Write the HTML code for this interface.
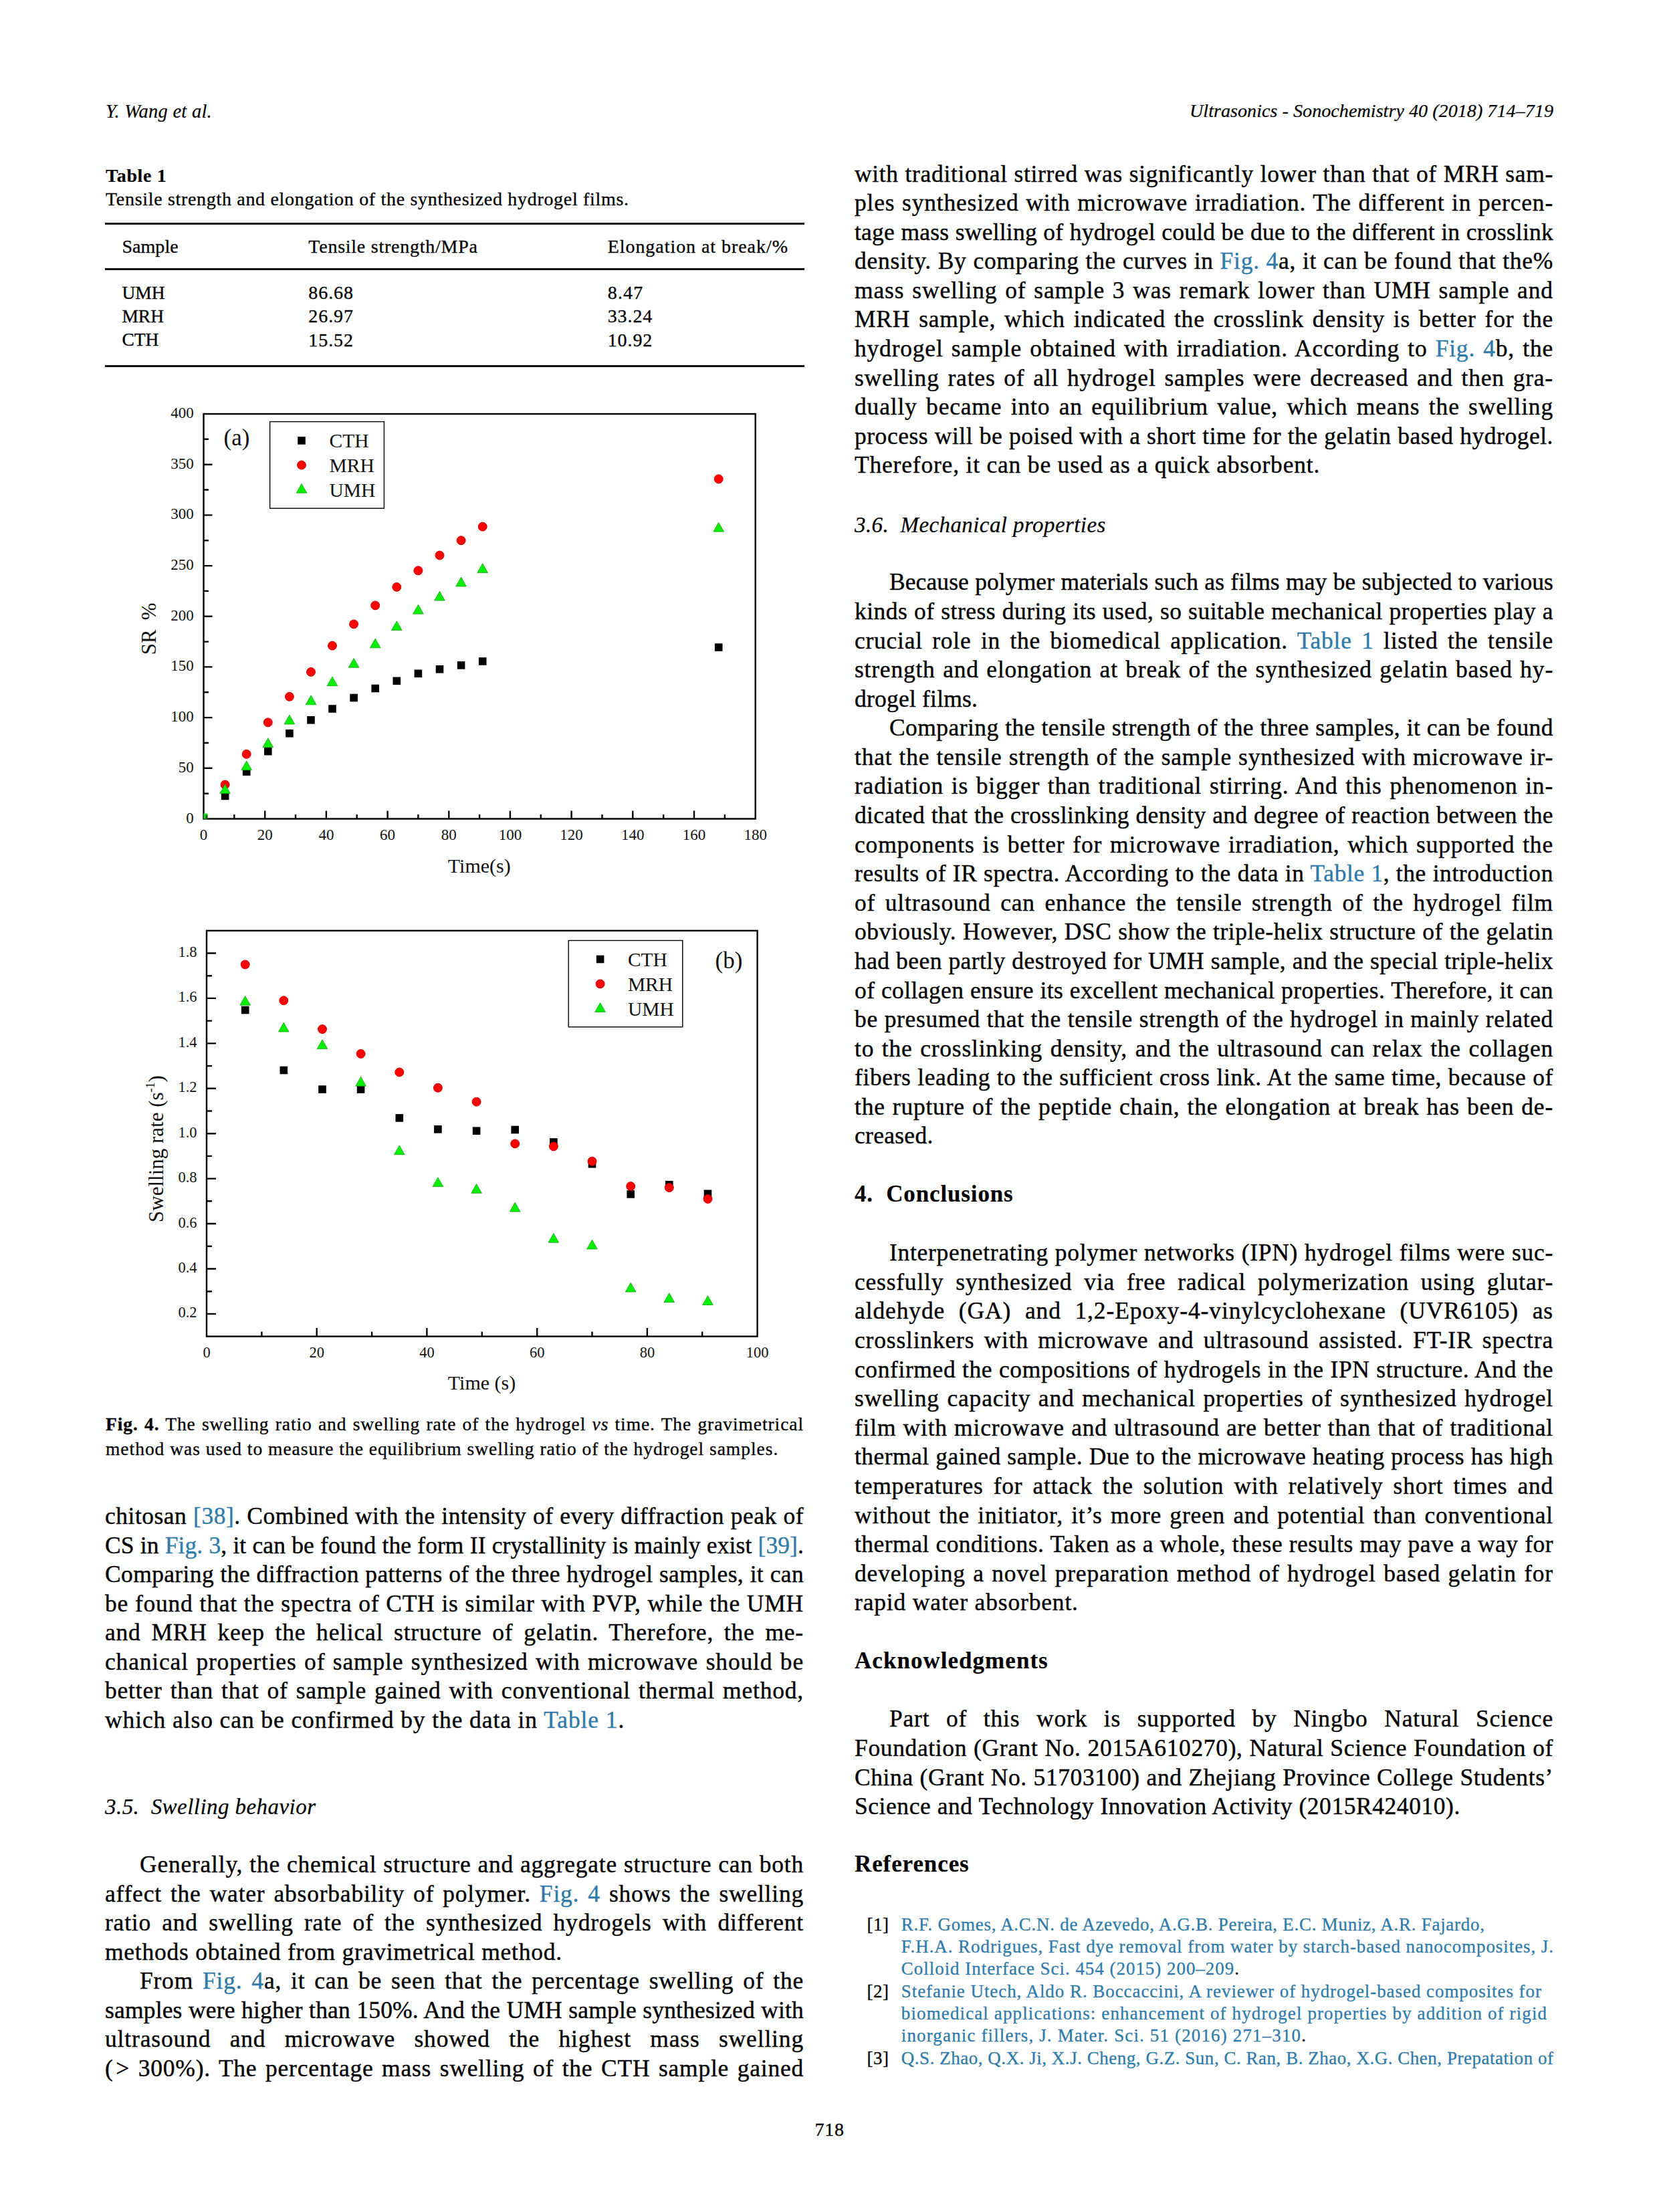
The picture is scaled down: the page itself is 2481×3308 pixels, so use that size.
<!DOCTYPE html>
<html><head><meta charset="utf-8"><title>page</title>
<style>
html,body{margin:0;padding:0;background:#fff;}
body{width:2481px;height:3308px;position:relative;overflow:hidden;font-family:"Liberation Serif",serif;color:#000;}
.l{position:absolute;white-space:nowrap;}
.r{position:absolute;background:#111;}
.a{color:#2f7aa8;}
.c{position:absolute;left:0;top:0;}
</style></head><body>
<svg class="c" width="2481" height="3308" viewBox="0 0 2481 3308" font-family="Liberation Serif" fill="#111"><rect x="304.5" y="619" width="825.2" height="605.5" fill="none" stroke="#000" stroke-width="2.4"/>
<path d="M350.3 1224.5V1218.0M396.2 1224.5V1212.5M442.0 1224.5V1218.0M487.9 1224.5V1212.5M533.7 1224.5V1218.0M579.6 1224.5V1212.5M625.4 1224.5V1218.0M671.3 1224.5V1212.5M717.1 1224.5V1218.0M762.9 1224.5V1212.5M808.8 1224.5V1218.0M854.6 1224.5V1212.5M900.5 1224.5V1218.0M946.3 1224.5V1212.5M992.2 1224.5V1218.0M1038.0 1224.5V1212.5M1083.9 1224.5V1218.0M304.5 1186.7H312.0M304.5 1148.8H317.5M304.5 1111.0H312.0M304.5 1073.1H317.5M304.5 1035.3H312.0M304.5 997.4H317.5M304.5 959.6H312.0M304.5 921.8H317.5M304.5 883.9H312.0M304.5 846.1H317.5M304.5 808.2H312.0M304.5 770.4H317.5M304.5 732.5H312.0M304.5 694.7H317.5M304.5 656.8H312.0" stroke="#000" stroke-width="2.4" fill="none"/>
<text x="304.5" y="1256" font-size="23" text-anchor="middle">0</text>
<text x="396.2" y="1256" font-size="23" text-anchor="middle">20</text>
<text x="487.9" y="1256" font-size="23" text-anchor="middle">40</text>
<text x="579.6" y="1256" font-size="23" text-anchor="middle">60</text>
<text x="671.3" y="1256" font-size="23" text-anchor="middle">80</text>
<text x="762.9" y="1256" font-size="23" text-anchor="middle">100</text>
<text x="854.6" y="1256" font-size="23" text-anchor="middle">120</text>
<text x="946.3" y="1256" font-size="23" text-anchor="middle">140</text>
<text x="1038.0" y="1256" font-size="23" text-anchor="middle">160</text>
<text x="1129.7" y="1256" font-size="23" text-anchor="middle">180</text>
<text x="289.7" y="1230.5" font-size="23" text-anchor="end">0</text>
<text x="289.7" y="1154.8" font-size="23" text-anchor="end">50</text>
<text x="289.7" y="1079.1" font-size="23" text-anchor="end">100</text>
<text x="289.7" y="1003.4" font-size="23" text-anchor="end">150</text>
<text x="289.7" y="927.8" font-size="23" text-anchor="end">200</text>
<text x="289.7" y="852.1" font-size="23" text-anchor="end">250</text>
<text x="289.7" y="776.4" font-size="23" text-anchor="end">300</text>
<text x="289.7" y="700.7" font-size="23" text-anchor="end">350</text>
<text x="289.7" y="625.0" font-size="23" text-anchor="end">400</text>
<text x="334.5" y="666.2" font-size="35">(a)</text>
<rect x="403.6" y="630.6" width="170.8" height="129.6" fill="none" stroke="#000" stroke-width="1.4"/>
<rect x="445.2" y="653.1" width="11.6" height="11.6" fill="#000"/>
<circle cx="451.0" cy="695.5" r="6.5" fill="#ff0000" stroke="#c40000" stroke-width="0.9"/>
<path d="M451.0 723.4L458.8 737.2L443.2 737.2Z" fill="#00f000" stroke="#18a018" stroke-width="0.8" stroke-linejoin="round"/>
<text x="492.5" y="668.8" font-size="29.5">CTH</text>
<text x="492.5" y="705.8" font-size="29.5">MRH</text>
<text x="492.5" y="743" font-size="29.5">UMH</text>
<text transform="translate(233,940.3) rotate(-90)" font-size="31" text-anchor="middle">SR<tspan dx="14">%</tspan></text>
<text x="669.8" y="1305" font-size="30">Time(s)</text>
<rect x="304.5" y="1216.5" width="6" height="8" fill="#1ed81e"/><rect x="307.5" y="1219" width="3" height="5" fill="#0f5a0f"/>
<rect x="330.8" y="1184.6" width="11.6" height="11.6" fill="#000"/>
<rect x="362.9" y="1148.3" width="11.6" height="11.6" fill="#000"/>
<rect x="395.0" y="1117.9" width="11.6" height="11.6" fill="#000"/>
<rect x="427.1" y="1090.9" width="11.6" height="11.6" fill="#000"/>
<rect x="459.2" y="1071.0" width="11.6" height="11.6" fill="#000"/>
<rect x="491.2" y="1054.2" width="11.6" height="11.6" fill="#000"/>
<rect x="523.3" y="1037.7" width="11.6" height="11.6" fill="#000"/>
<rect x="555.4" y="1023.7" width="11.6" height="11.6" fill="#000"/>
<rect x="587.5" y="1012.5" width="11.6" height="11.6" fill="#000"/>
<rect x="619.6" y="1001.5" width="11.6" height="11.6" fill="#000"/>
<rect x="651.7" y="995.0" width="11.6" height="11.6" fill="#000"/>
<rect x="683.8" y="989.1" width="11.6" height="11.6" fill="#000"/>
<rect x="715.9" y="983.2" width="11.6" height="11.6" fill="#000"/>
<rect x="1068.9" y="962.3" width="11.6" height="11.6" fill="#000"/>
<circle cx="336.6" cy="1173.5" r="6.5" fill="#ff0000" stroke="#c40000" stroke-width="0.9"/>
<circle cx="368.7" cy="1127.8" r="6.5" fill="#ff0000" stroke="#c40000" stroke-width="0.9"/>
<circle cx="400.8" cy="1080.4" r="6.5" fill="#ff0000" stroke="#c40000" stroke-width="0.9"/>
<circle cx="432.9" cy="1041.8" r="6.5" fill="#ff0000" stroke="#c40000" stroke-width="0.9"/>
<circle cx="465.0" cy="1004.9" r="6.5" fill="#ff0000" stroke="#c40000" stroke-width="0.9"/>
<circle cx="497.0" cy="965.6" r="6.5" fill="#ff0000" stroke="#c40000" stroke-width="0.9"/>
<circle cx="529.1" cy="933.4" r="6.5" fill="#ff0000" stroke="#c40000" stroke-width="0.9"/>
<circle cx="561.2" cy="905.4" r="6.5" fill="#ff0000" stroke="#c40000" stroke-width="0.9"/>
<circle cx="593.3" cy="877.9" r="6.5" fill="#ff0000" stroke="#c40000" stroke-width="0.9"/>
<circle cx="625.4" cy="853.3" r="6.5" fill="#ff0000" stroke="#c40000" stroke-width="0.9"/>
<circle cx="657.5" cy="830.5" r="6.5" fill="#ff0000" stroke="#c40000" stroke-width="0.9"/>
<circle cx="689.6" cy="808.2" r="6.5" fill="#ff0000" stroke="#c40000" stroke-width="0.9"/>
<circle cx="721.7" cy="787.6" r="6.5" fill="#ff0000" stroke="#c40000" stroke-width="0.9"/>
<circle cx="1074.7" cy="716.3" r="6.5" fill="#ff0000" stroke="#c40000" stroke-width="0.9"/>
<path d="M336.6 1172.9L344.4 1186.7L328.8 1186.7Z" fill="#00f000" stroke="#18a018" stroke-width="0.8" stroke-linejoin="round"/>
<path d="M368.7 1137.9L376.5 1151.7L360.9 1151.7Z" fill="#00f000" stroke="#18a018" stroke-width="0.8" stroke-linejoin="round"/>
<path d="M400.8 1103.8L408.6 1117.6L393.0 1117.6Z" fill="#00f000" stroke="#18a018" stroke-width="0.8" stroke-linejoin="round"/>
<path d="M432.9 1069.2L440.7 1083.0L425.1 1083.0Z" fill="#00f000" stroke="#18a018" stroke-width="0.8" stroke-linejoin="round"/>
<path d="M465.0 1040.0L472.8 1053.8L457.2 1053.8Z" fill="#00f000" stroke="#18a018" stroke-width="0.8" stroke-linejoin="round"/>
<path d="M497.0 1011.9L504.8 1025.7L489.2 1025.7Z" fill="#00f000" stroke="#18a018" stroke-width="0.8" stroke-linejoin="round"/>
<path d="M529.1 984.4L536.9 998.2L521.3 998.2Z" fill="#00f000" stroke="#18a018" stroke-width="0.8" stroke-linejoin="round"/>
<path d="M561.2 955.0L569.0 968.8L553.4 968.8Z" fill="#00f000" stroke="#18a018" stroke-width="0.8" stroke-linejoin="round"/>
<path d="M593.3 928.8L601.1 942.6L585.5 942.6Z" fill="#00f000" stroke="#18a018" stroke-width="0.8" stroke-linejoin="round"/>
<path d="M625.4 904.3L633.2 918.1L617.6 918.1Z" fill="#00f000" stroke="#18a018" stroke-width="0.8" stroke-linejoin="round"/>
<path d="M657.5 884.3L665.3 898.1L649.7 898.1Z" fill="#00f000" stroke="#18a018" stroke-width="0.8" stroke-linejoin="round"/>
<path d="M689.6 863.1L697.4 876.9L681.8 876.9Z" fill="#00f000" stroke="#18a018" stroke-width="0.8" stroke-linejoin="round"/>
<path d="M721.7 842.7L729.5 856.5L713.9 856.5Z" fill="#00f000" stroke="#18a018" stroke-width="0.8" stroke-linejoin="round"/>
<path d="M1074.7 781.3L1082.5 795.1L1066.9 795.1Z" fill="#00f000" stroke="#18a018" stroke-width="0.8" stroke-linejoin="round"/>
<rect x="309" y="1391.8" width="823.6" height="606.8" fill="none" stroke="#000" stroke-width="2.4"/>
<path d="M391.4 1998.6V1991.6M473.7 1998.6V1986.1M556.1 1998.6V1991.6M638.4 1998.6V1986.1M720.8 1998.6V1991.6M803.2 1998.6V1986.1M885.5 1998.6V1991.6M967.9 1998.6V1986.1M1050.2 1998.6V1991.6M309 1964.9H323M309 1931.2H317M309 1897.5H323M309 1863.8H317M309 1830.0H323M309 1796.3H317M309 1762.6H323M309 1728.9H317M309 1695.2H323M309 1661.5H317M309 1627.8H323M309 1594.1H317M309 1560.4H323M309 1526.6H317M309 1492.9H323M309 1459.2H317M309 1425.5H323" stroke="#000" stroke-width="2.4" fill="none"/>
<text x="309.0" y="2030" font-size="22.5" text-anchor="middle">0</text>
<text x="473.7" y="2030" font-size="22.5" text-anchor="middle">20</text>
<text x="638.4" y="2030" font-size="22.5" text-anchor="middle">40</text>
<text x="803.2" y="2030" font-size="22.5" text-anchor="middle">60</text>
<text x="967.9" y="2030" font-size="22.5" text-anchor="middle">80</text>
<text x="1132.6" y="2030" font-size="22.5" text-anchor="middle">100</text>
<text x="294.6" y="1970.4" font-size="22.5" text-anchor="end">0.2</text>
<text x="294.6" y="1903.0" font-size="22.5" text-anchor="end">0.4</text>
<text x="294.6" y="1835.5" font-size="22.5" text-anchor="end">0.6</text>
<text x="294.6" y="1768.1" font-size="22.5" text-anchor="end">0.8</text>
<text x="294.6" y="1700.7" font-size="22.5" text-anchor="end">1.0</text>
<text x="294.6" y="1633.3" font-size="22.5" text-anchor="end">1.2</text>
<text x="294.6" y="1565.9" font-size="22.5" text-anchor="end">1.4</text>
<text x="294.6" y="1498.4" font-size="22.5" text-anchor="end">1.6</text>
<text x="294.6" y="1431.0" font-size="22.5" text-anchor="end">1.8</text>
<text x="1069.6" y="1447.6" font-size="35">(b)</text>
<rect x="850.2" y="1406.5" width="170.6" height="129.3" fill="none" stroke="#000" stroke-width="1.4"/>
<rect x="891.8" y="1428.7" width="11.6" height="11.6" fill="#000"/>
<circle cx="897.6" cy="1471.4" r="6.5" fill="#ff0000" stroke="#c40000" stroke-width="0.9"/>
<path d="M897.6 1499.6L905.4 1513.4L889.8 1513.4Z" fill="#00f000" stroke="#18a018" stroke-width="0.8" stroke-linejoin="round"/>
<text x="938.9" y="1444.7" font-size="29.5">CTH</text>
<text x="938.9" y="1481.6" font-size="29.5">MRH</text>
<text x="938.9" y="1518.6" font-size="29.5">UMH</text>
<text transform="translate(244,1718) rotate(-90)" font-size="31" text-anchor="middle">Swelling rate (s<tspan font-size="18" dy="-13">-1</tspan><tspan dy="13">)</tspan></text>
<text x="669.8" y="2077.7" font-size="30">Time (s)</text>
<rect x="360.9" y="1504.7" width="11.6" height="11.6" fill="#000"/>
<rect x="418.5" y="1594.7" width="11.6" height="11.6" fill="#000"/>
<rect x="476.2" y="1623.3" width="11.6" height="11.6" fill="#000"/>
<rect x="533.8" y="1623.3" width="11.6" height="11.6" fill="#000"/>
<rect x="591.5" y="1666.1" width="11.6" height="11.6" fill="#000"/>
<rect x="649.1" y="1683.0" width="11.6" height="11.6" fill="#000"/>
<rect x="706.8" y="1685.4" width="11.6" height="11.6" fill="#000"/>
<rect x="764.4" y="1683.7" width="11.6" height="11.6" fill="#000"/>
<rect x="822.1" y="1702.2" width="11.6" height="11.6" fill="#000"/>
<rect x="879.7" y="1734.9" width="11.6" height="11.6" fill="#000"/>
<rect x="937.4" y="1780.1" width="11.6" height="11.6" fill="#000"/>
<rect x="995.0" y="1765.9" width="11.6" height="11.6" fill="#000"/>
<rect x="1052.7" y="1779.4" width="11.6" height="11.6" fill="#000"/>
<circle cx="366.7" cy="1442.4" r="6.5" fill="#ff0000" stroke="#c40000" stroke-width="0.9"/>
<circle cx="424.3" cy="1496.3" r="6.5" fill="#ff0000" stroke="#c40000" stroke-width="0.9"/>
<circle cx="482.0" cy="1539.1" r="6.5" fill="#ff0000" stroke="#c40000" stroke-width="0.9"/>
<circle cx="539.6" cy="1575.9" r="6.5" fill="#ff0000" stroke="#c40000" stroke-width="0.9"/>
<circle cx="597.3" cy="1603.5" r="6.5" fill="#ff0000" stroke="#c40000" stroke-width="0.9"/>
<circle cx="654.9" cy="1626.8" r="6.5" fill="#ff0000" stroke="#c40000" stroke-width="0.9"/>
<circle cx="712.6" cy="1647.7" r="6.5" fill="#ff0000" stroke="#c40000" stroke-width="0.9"/>
<circle cx="770.2" cy="1710.4" r="6.5" fill="#ff0000" stroke="#c40000" stroke-width="0.9"/>
<circle cx="827.9" cy="1714.4" r="6.5" fill="#ff0000" stroke="#c40000" stroke-width="0.9"/>
<circle cx="885.5" cy="1736.7" r="6.5" fill="#ff0000" stroke="#c40000" stroke-width="0.9"/>
<circle cx="943.2" cy="1774.1" r="6.5" fill="#ff0000" stroke="#c40000" stroke-width="0.9"/>
<circle cx="1000.8" cy="1776.1" r="6.5" fill="#ff0000" stroke="#c40000" stroke-width="0.9"/>
<circle cx="1058.5" cy="1793.0" r="6.5" fill="#ff0000" stroke="#c40000" stroke-width="0.9"/>
<path d="M366.7 1489.4L374.5 1503.2L358.9 1503.2Z" fill="#00f000" stroke="#18a018" stroke-width="0.8" stroke-linejoin="round"/>
<path d="M424.3 1529.2L432.1 1543.0L416.5 1543.0Z" fill="#00f000" stroke="#18a018" stroke-width="0.8" stroke-linejoin="round"/>
<path d="M482.0 1554.8L489.8 1568.6L474.2 1568.6Z" fill="#00f000" stroke="#18a018" stroke-width="0.8" stroke-linejoin="round"/>
<path d="M539.6 1610.4L547.4 1624.2L531.8 1624.2Z" fill="#00f000" stroke="#18a018" stroke-width="0.8" stroke-linejoin="round"/>
<path d="M597.3 1712.9L605.1 1726.7L589.5 1726.7Z" fill="#00f000" stroke="#18a018" stroke-width="0.8" stroke-linejoin="round"/>
<path d="M654.9 1760.8L662.7 1774.6L647.1 1774.6Z" fill="#00f000" stroke="#18a018" stroke-width="0.8" stroke-linejoin="round"/>
<path d="M712.6 1770.5L720.4 1784.3L704.8 1784.3Z" fill="#00f000" stroke="#18a018" stroke-width="0.8" stroke-linejoin="round"/>
<path d="M770.2 1798.2L778.0 1812.0L762.4 1812.0Z" fill="#00f000" stroke="#18a018" stroke-width="0.8" stroke-linejoin="round"/>
<path d="M827.9 1844.4L835.7 1858.2L820.1 1858.2Z" fill="#00f000" stroke="#18a018" stroke-width="0.8" stroke-linejoin="round"/>
<path d="M885.5 1854.1L893.3 1867.9L877.7 1867.9Z" fill="#00f000" stroke="#18a018" stroke-width="0.8" stroke-linejoin="round"/>
<path d="M943.2 1918.2L951.0 1932.0L935.4 1932.0Z" fill="#00f000" stroke="#18a018" stroke-width="0.8" stroke-linejoin="round"/>
<path d="M1000.8 1933.7L1008.6 1947.5L993.0 1947.5Z" fill="#00f000" stroke="#18a018" stroke-width="0.8" stroke-linejoin="round"/>
<path d="M1058.5 1937.7L1066.3 1951.5L1050.7 1951.5Z" fill="#00f000" stroke="#18a018" stroke-width="0.8" stroke-linejoin="round"/></svg>
<div class="r" style="left:157px;top:333px;width:1046px;height:3px"></div><div class="r" style="left:157px;top:401px;width:1046px;height:3px"></div><div class="r" style="left:157px;top:546px;width:1046px;height:3px"></div>
<div class="l" style="left:158.0px;top:150.6px;font-size:28.5px;line-height:31.55px;letter-spacing:0.247px;-webkit-text-stroke:0.18px currentColor;font-style:italic;">Y. Wang et al.</div>
<div class="l" style="left:1779.0px;top:150.4px;font-size:28.2px;line-height:31.22px;letter-spacing:-0.003px;-webkit-text-stroke:0.18px currentColor;font-style:italic;">Ultrasonics - Sonochemistry 40 (2018) 714–719</div>
<div class="l" style="left:158.0px;top:247.4px;font-size:28px;line-height:31.00px;letter-spacing:0.635px;-webkit-text-stroke:0.12px currentColor;font-weight:bold;">Table 1</div>
<div class="l" style="left:158.0px;top:281.8px;font-size:28px;line-height:31.00px;letter-spacing:0.684px;-webkit-text-stroke:0.30px currentColor;">Tensile strength and elongation of the synthesized hydrogel films.</div>
<div class="l" style="left:182.4px;top:353.1px;font-size:28px;line-height:31.00px;letter-spacing:0.060px;-webkit-text-stroke:0.30px currentColor;">Sample</div>
<div class="l" style="left:461.3px;top:353.1px;font-size:28px;line-height:31.00px;letter-spacing:0.756px;-webkit-text-stroke:0.30px currentColor;">Tensile strength/MPa</div>
<div class="l" style="left:908.7px;top:353.1px;font-size:28px;line-height:31.00px;letter-spacing:0.947px;-webkit-text-stroke:0.30px currentColor;">Elongation at break/%</div>
<div class="l" style="left:182.4px;top:422.5px;font-size:27.5px;line-height:30.44px;-webkit-text-stroke:0.30px currentColor;">UMH</div>
<div class="l" style="left:461.3px;top:422.1px;font-size:28px;line-height:31.00px;letter-spacing:0.925px;-webkit-text-stroke:0.30px currentColor;">86.68</div>
<div class="l" style="left:908.7px;top:422.1px;font-size:28px;line-height:31.00px;letter-spacing:1.200px;-webkit-text-stroke:0.30px currentColor;">8.47</div>
<div class="l" style="left:182.4px;top:457.8px;font-size:27.5px;line-height:30.44px;-webkit-text-stroke:0.30px currentColor;">MRH</div>
<div class="l" style="left:461.3px;top:457.4px;font-size:28px;line-height:31.00px;letter-spacing:0.925px;-webkit-text-stroke:0.30px currentColor;">26.97</div>
<div class="l" style="left:908.7px;top:457.4px;font-size:28px;line-height:31.00px;letter-spacing:0.900px;-webkit-text-stroke:0.30px currentColor;">33.24</div>
<div class="l" style="left:182.4px;top:493.1px;font-size:27.5px;line-height:30.44px;-webkit-text-stroke:0.30px currentColor;">CTH</div>
<div class="l" style="left:461.3px;top:492.7px;font-size:28px;line-height:31.00px;letter-spacing:0.925px;-webkit-text-stroke:0.30px currentColor;">15.52</div>
<div class="l" style="left:908.7px;top:492.7px;font-size:28px;line-height:31.00px;letter-spacing:0.900px;-webkit-text-stroke:0.30px currentColor;">10.92</div>
<div class="l" style="left:158.0px;top:2114.5px;font-size:27.5px;line-height:30.44px;width:1044.0px;text-align:justify;text-align-last:justify;letter-spacing:0.922px;-webkit-text-stroke:0.30px currentColor;"><b>Fig. 4.</b> The swelling ratio and swelling rate of the hydrogel <i>vs</i> time. The gravimetrical</div>
<div class="l" style="left:158.0px;top:2152.3px;font-size:27.5px;line-height:30.44px;letter-spacing:0.974px;-webkit-text-stroke:0.30px currentColor;">method was used to measure the equilibrium swelling ratio of the hydrogel samples.</div>
<div class="l" style="left:157.0px;top:2248.1px;font-size:35.5px;line-height:39.30px;width:1045.0px;text-align:justify;text-align-last:justify;letter-spacing:0.508px;-webkit-text-stroke:0.38px currentColor;">chitosan <span class="a">[38]</span>. Combined with the intensity of every diffraction peak of</div>
<div class="l" style="left:157.0px;top:2291.6px;font-size:35.5px;line-height:39.30px;width:1045.0px;text-align:justify;text-align-last:justify;letter-spacing:0.087px;-webkit-text-stroke:0.38px currentColor;">CS in <span class="a">Fig. 3</span>, it can be found the form II crystallinity is mainly exist <span class="a">[39]</span>.</div>
<div class="l" style="left:157.0px;top:2335.1px;font-size:35.5px;line-height:39.30px;width:1045.0px;text-align:justify;text-align-last:justify;letter-spacing:0.365px;-webkit-text-stroke:0.38px currentColor;">Comparing the diffraction patterns of the three hydrogel samples, it can</div>
<div class="l" style="left:157.0px;top:2378.6px;font-size:35.5px;line-height:39.30px;width:1045.0px;text-align:justify;text-align-last:justify;letter-spacing:0.777px;-webkit-text-stroke:0.38px currentColor;">be found that the spectra of CTH is similar with PVP, while the UMH</div>
<div class="l" style="left:157.0px;top:2422.1px;font-size:35.5px;line-height:39.30px;width:1045.0px;text-align:justify;text-align-last:justify;letter-spacing:0.800px;-webkit-text-stroke:0.38px currentColor;">and MRH keep the helical structure of gelatin. Therefore, the me-</div>
<div class="l" style="left:157.0px;top:2465.6px;font-size:35.5px;line-height:39.30px;width:1045.0px;text-align:justify;text-align-last:justify;letter-spacing:0.825px;-webkit-text-stroke:0.38px currentColor;">chanical properties of sample synthesized with microwave should be</div>
<div class="l" style="left:157.0px;top:2509.1px;font-size:35.5px;line-height:39.30px;width:1045.0px;text-align:justify;text-align-last:justify;letter-spacing:0.808px;-webkit-text-stroke:0.38px currentColor;">better than that of sample gained with conventional thermal method,</div>
<div class="l" style="left:157.0px;top:2552.6px;font-size:35.5px;line-height:39.30px;letter-spacing:0.900px;-webkit-text-stroke:0.38px currentColor;">which also can be confirmed by the data in <span class="a">Table 1</span>.</div>
<div class="l" style="left:157.0px;top:2683.6px;font-size:33px;line-height:36.53px;letter-spacing:0.445px;-webkit-text-stroke:0.21px currentColor;font-style:italic;">3.5.&nbsp; Swelling behavior</div>
<div class="l" style="left:209.0px;top:2769.4px;font-size:35.5px;line-height:39.30px;width:993.0px;text-align:justify;text-align-last:justify;letter-spacing:0.773px;-webkit-text-stroke:0.38px currentColor;">Generally, the chemical structure and aggregate structure can both</div>
<div class="l" style="left:157.0px;top:2812.9px;font-size:35.5px;line-height:39.30px;width:1045.0px;text-align:justify;text-align-last:justify;letter-spacing:0.786px;-webkit-text-stroke:0.38px currentColor;">affect the water absorbability of polymer. <span class="a">Fig. 4</span> shows the swelling</div>
<div class="l" style="left:157.0px;top:2856.4px;font-size:35.5px;line-height:39.30px;width:1045.0px;text-align:justify;text-align-last:justify;letter-spacing:0.777px;-webkit-text-stroke:0.38px currentColor;">ratio and swelling rate of the synthesized hydrogels with different</div>
<div class="l" style="left:157.0px;top:2899.9px;font-size:35.5px;line-height:39.30px;letter-spacing:0.747px;-webkit-text-stroke:0.38px currentColor;">methods obtained from gravimetrical method.</div>
<div class="l" style="left:209.0px;top:2943.4px;font-size:35.5px;line-height:39.30px;width:993.0px;text-align:justify;text-align-last:justify;letter-spacing:0.777px;-webkit-text-stroke:0.38px currentColor;">From <span class="a">Fig. 4</span>a, it can be seen that the percentage swelling of the</div>
<div class="l" style="left:157.0px;top:2986.9px;font-size:35.5px;line-height:39.30px;width:1045.0px;text-align:justify;text-align-last:justify;letter-spacing:0.178px;-webkit-text-stroke:0.38px currentColor;">samples were higher than 150%. And the UMH sample synthesized with</div>
<div class="l" style="left:157.0px;top:3030.4px;font-size:35.5px;line-height:39.30px;width:1045.0px;text-align:justify;text-align-last:justify;letter-spacing:0.848px;-webkit-text-stroke:0.38px currentColor;">ultrasound and microwave showed the highest mass swelling</div>
<div class="l" style="left:157.0px;top:3073.9px;font-size:35.5px;line-height:39.30px;width:1045.0px;text-align:justify;text-align-last:justify;letter-spacing:0.770px;-webkit-text-stroke:0.38px currentColor;">(&#8202;&gt; 300%). The percentage mass swelling of the CTH sample gained</div>
<div class="l" style="left:1278.0px;top:240.7px;font-size:35.5px;line-height:39.30px;width:1045.0px;text-align:justify;text-align-last:justify;letter-spacing:0.660px;-webkit-text-stroke:0.38px currentColor;">with traditional stirred was significantly lower than that of MRH sam-</div>
<div class="l" style="left:1278.0px;top:284.2px;font-size:35.5px;line-height:39.30px;width:1045.0px;text-align:justify;text-align-last:justify;letter-spacing:0.794px;-webkit-text-stroke:0.38px currentColor;">ples synthesized with microwave irradiation. The different in percen-</div>
<div class="l" style="left:1278.0px;top:327.8px;font-size:35.5px;line-height:39.30px;width:1045.0px;text-align:justify;text-align-last:justify;letter-spacing:0.237px;-webkit-text-stroke:0.38px currentColor;">tage mass swelling of hydrogel could be due to the different in crosslink</div>
<div class="l" style="left:1278.0px;top:371.3px;font-size:35.5px;line-height:39.30px;width:1045.0px;text-align:justify;text-align-last:justify;letter-spacing:0.722px;-webkit-text-stroke:0.38px currentColor;">density. By comparing the curves in <span class="a">Fig. 4</span>a, it can be found that the%</div>
<div class="l" style="left:1278.0px;top:414.9px;font-size:35.5px;line-height:39.30px;width:1045.0px;text-align:justify;text-align-last:justify;letter-spacing:0.872px;-webkit-text-stroke:0.38px currentColor;">mass swelling of sample 3 was remark lower than UMH sample and</div>
<div class="l" style="left:1278.0px;top:458.4px;font-size:35.5px;line-height:39.30px;width:1045.0px;text-align:justify;text-align-last:justify;letter-spacing:0.799px;-webkit-text-stroke:0.38px currentColor;">MRH sample, which indicated the crosslink density is better for the</div>
<div class="l" style="left:1278.0px;top:502.0px;font-size:35.5px;line-height:39.30px;width:1045.0px;text-align:justify;text-align-last:justify;letter-spacing:0.795px;-webkit-text-stroke:0.38px currentColor;">hydrogel sample obtained with irradiation. According to <span class="a">Fig. 4</span>b, the</div>
<div class="l" style="left:1278.0px;top:545.5px;font-size:35.5px;line-height:39.30px;width:1045.0px;text-align:justify;text-align-last:justify;letter-spacing:0.800px;-webkit-text-stroke:0.38px currentColor;">swelling rates of all hydrogel samples were decreased and then gra-</div>
<div class="l" style="left:1278.0px;top:589.1px;font-size:35.5px;line-height:39.30px;width:1045.0px;text-align:justify;text-align-last:justify;letter-spacing:0.823px;-webkit-text-stroke:0.38px currentColor;">dually became into an equilibrium value, which means the swelling</div>
<div class="l" style="left:1278.0px;top:632.6px;font-size:35.5px;line-height:39.30px;width:1045.0px;text-align:justify;text-align-last:justify;letter-spacing:0.519px;-webkit-text-stroke:0.38px currentColor;">process will be poised with a short time for the gelatin based hydrogel.</div>
<div class="l" style="left:1278.0px;top:676.2px;font-size:35.5px;line-height:39.30px;letter-spacing:0.801px;-webkit-text-stroke:0.38px currentColor;">Therefore, it can be used as a quick absorbent.</div>
<div class="l" style="left:1278.0px;top:766.9px;font-size:33px;line-height:36.53px;letter-spacing:0.417px;-webkit-text-stroke:0.21px currentColor;font-style:italic;">3.6.&nbsp; Mechanical properties</div>
<div class="l" style="left:1330.0px;top:851.4px;font-size:35.5px;line-height:39.30px;width:993.0px;text-align:justify;text-align-last:justify;letter-spacing:0.091px;-webkit-text-stroke:0.38px currentColor;">Because polymer materials such as films may be subjected to various</div>
<div class="l" style="left:1278.0px;top:894.9px;font-size:35.5px;line-height:39.30px;width:1045.0px;text-align:justify;text-align-last:justify;letter-spacing:0.498px;-webkit-text-stroke:0.38px currentColor;">kinds of stress during its used, so suitable mechanical properties play a</div>
<div class="l" style="left:1278.0px;top:938.5px;font-size:35.5px;line-height:39.30px;width:1045.0px;text-align:justify;text-align-last:justify;letter-spacing:0.753px;-webkit-text-stroke:0.38px currentColor;">crucial role in the biomedical application. <span class="a">Table 1</span> listed the tensile</div>
<div class="l" style="left:1278.0px;top:982.1px;font-size:35.5px;line-height:39.30px;width:1045.0px;text-align:justify;text-align-last:justify;letter-spacing:0.786px;-webkit-text-stroke:0.38px currentColor;">strength and elongation at break of the synthesized gelatin based hy-</div>
<div class="l" style="left:1278.0px;top:1025.7px;font-size:35.5px;line-height:39.30px;letter-spacing:0.215px;-webkit-text-stroke:0.38px currentColor;">drogel films.</div>
<div class="l" style="left:1330.0px;top:1069.3px;font-size:35.5px;line-height:39.30px;width:993.0px;text-align:justify;text-align-last:justify;letter-spacing:0.438px;-webkit-text-stroke:0.38px currentColor;">Comparing the tensile strength of the three samples, it can be found</div>
<div class="l" style="left:1278.0px;top:1112.8px;font-size:35.5px;line-height:39.30px;width:1045.0px;text-align:justify;text-align-last:justify;letter-spacing:0.785px;-webkit-text-stroke:0.38px currentColor;">that the tensile strength of the sample synthesized with microwave ir-</div>
<div class="l" style="left:1278.0px;top:1156.4px;font-size:35.5px;line-height:39.30px;width:1045.0px;text-align:justify;text-align-last:justify;letter-spacing:0.775px;-webkit-text-stroke:0.38px currentColor;">radiation is bigger than traditional stirring. And this phenomenon in-</div>
<div class="l" style="left:1278.0px;top:1200.0px;font-size:35.5px;line-height:39.30px;width:1045.0px;text-align:justify;text-align-last:justify;letter-spacing:0.370px;-webkit-text-stroke:0.38px currentColor;">dicated that the crosslinking density and degree of reaction between the</div>
<div class="l" style="left:1278.0px;top:1243.6px;font-size:35.5px;line-height:39.30px;width:1045.0px;text-align:justify;text-align-last:justify;letter-spacing:0.810px;-webkit-text-stroke:0.38px currentColor;">components is better for microwave irradiation, which supported the</div>
<div class="l" style="left:1278.0px;top:1287.2px;font-size:35.5px;line-height:39.30px;width:1045.0px;text-align:justify;text-align-last:justify;letter-spacing:0.569px;-webkit-text-stroke:0.38px currentColor;">results of IR spectra. According to the data in <span class="a">Table 1</span>, the introduction</div>
<div class="l" style="left:1278.0px;top:1330.7px;font-size:35.5px;line-height:39.30px;width:1045.0px;text-align:justify;text-align-last:justify;letter-spacing:0.785px;-webkit-text-stroke:0.38px currentColor;">of ultrasound can enhance the tensile strength of the hydrogel film</div>
<div class="l" style="left:1278.0px;top:1374.3px;font-size:35.5px;line-height:39.30px;width:1045.0px;text-align:justify;text-align-last:justify;letter-spacing:0.558px;-webkit-text-stroke:0.38px currentColor;">obviously. However, DSC show the triple-helix structure of the gelatin</div>
<div class="l" style="left:1278.0px;top:1417.9px;font-size:35.5px;line-height:39.30px;width:1045.0px;text-align:justify;text-align-last:justify;letter-spacing:0.423px;-webkit-text-stroke:0.38px currentColor;">had been partly destroyed for UMH sample, and the special triple-helix</div>
<div class="l" style="left:1278.0px;top:1461.5px;font-size:35.5px;line-height:39.30px;width:1045.0px;text-align:justify;text-align-last:justify;letter-spacing:0.389px;-webkit-text-stroke:0.38px currentColor;">of collagen ensure its excellent mechanical properties. Therefore, it can</div>
<div class="l" style="left:1278.0px;top:1505.1px;font-size:35.5px;line-height:39.30px;width:1045.0px;text-align:justify;text-align-last:justify;letter-spacing:0.666px;-webkit-text-stroke:0.38px currentColor;">be presumed that the tensile strength of the hydrogel in mainly related</div>
<div class="l" style="left:1278.0px;top:1548.6px;font-size:35.5px;line-height:39.30px;width:1045.0px;text-align:justify;text-align-last:justify;letter-spacing:0.774px;-webkit-text-stroke:0.38px currentColor;">to the crosslinking density, and the ultrasound can relax the collagen</div>
<div class="l" style="left:1278.0px;top:1592.2px;font-size:35.5px;line-height:39.30px;width:1045.0px;text-align:justify;text-align-last:justify;letter-spacing:0.616px;-webkit-text-stroke:0.38px currentColor;">fibers leading to the sufficient cross link. At the same time, because of</div>
<div class="l" style="left:1278.0px;top:1635.8px;font-size:35.5px;line-height:39.30px;width:1045.0px;text-align:justify;text-align-last:justify;letter-spacing:0.776px;-webkit-text-stroke:0.38px currentColor;">the rupture of the peptide chain, the elongation at break has been de-</div>
<div class="l" style="left:1278.0px;top:1679.4px;font-size:35.5px;line-height:39.30px;letter-spacing:0.286px;-webkit-text-stroke:0.38px currentColor;">creased.</div>
<div class="l" style="left:1278.0px;top:1766.5px;font-size:35px;line-height:38.74px;letter-spacing:0.860px;-webkit-text-stroke:0.15px currentColor;font-weight:bold;">4.&nbsp; Conclusions</div>
<div class="l" style="left:1330.0px;top:1854.1px;font-size:35.5px;line-height:39.30px;width:993.0px;text-align:justify;text-align-last:justify;letter-spacing:0.697px;-webkit-text-stroke:0.38px currentColor;">Interpenetrating polymer networks (IPN) hydrogel films were suc-</div>
<div class="l" style="left:1278.0px;top:1897.7px;font-size:35.5px;line-height:39.30px;width:1045.0px;text-align:justify;text-align-last:justify;letter-spacing:0.779px;-webkit-text-stroke:0.38px currentColor;">cessfully synthesized via free radical polymerization using glutar-</div>
<div class="l" style="left:1278.0px;top:1941.3px;font-size:35.5px;line-height:39.30px;width:1045.0px;text-align:justify;text-align-last:justify;letter-spacing:0.888px;-webkit-text-stroke:0.38px currentColor;">aldehyde (GA) and 1,2-Epoxy-4-vinylcyclohexane (UVR6105) as</div>
<div class="l" style="left:1278.0px;top:1984.9px;font-size:35.5px;line-height:39.30px;width:1045.0px;text-align:justify;text-align-last:justify;letter-spacing:0.811px;-webkit-text-stroke:0.38px currentColor;">crosslinkers with microwave and ultrasound assisted. FT-IR spectra</div>
<div class="l" style="left:1278.0px;top:2028.5px;font-size:35.5px;line-height:39.30px;width:1045.0px;text-align:justify;text-align-last:justify;letter-spacing:0.598px;-webkit-text-stroke:0.38px currentColor;">confirmed the compositions of hydrogels in the IPN structure. And the</div>
<div class="l" style="left:1278.0px;top:2072.1px;font-size:35.5px;line-height:39.30px;width:1045.0px;text-align:justify;text-align-last:justify;letter-spacing:0.814px;-webkit-text-stroke:0.38px currentColor;">swelling capacity and mechanical properties of synthesized hydrogel</div>
<div class="l" style="left:1278.0px;top:2115.7px;font-size:35.5px;line-height:39.30px;width:1045.0px;text-align:justify;text-align-last:justify;letter-spacing:0.784px;-webkit-text-stroke:0.38px currentColor;">film with microwave and ultrasound are better than that of traditional</div>
<div class="l" style="left:1278.0px;top:2159.3px;font-size:35.5px;line-height:39.30px;width:1045.0px;text-align:justify;text-align-last:justify;letter-spacing:0.464px;-webkit-text-stroke:0.38px currentColor;">thermal gained sample. Due to the microwave heating process has high</div>
<div class="l" style="left:1278.0px;top:2202.9px;font-size:35.5px;line-height:39.30px;width:1045.0px;text-align:justify;text-align-last:justify;letter-spacing:0.774px;-webkit-text-stroke:0.38px currentColor;">temperatures for attack the solution with relatively short times and</div>
<div class="l" style="left:1278.0px;top:2246.5px;font-size:35.5px;line-height:39.30px;width:1045.0px;text-align:justify;text-align-last:justify;letter-spacing:0.771px;-webkit-text-stroke:0.38px currentColor;">without the initiator, it’s more green and potential than conventional</div>
<div class="l" style="left:1278.0px;top:2290.1px;font-size:35.5px;line-height:39.30px;width:1045.0px;text-align:justify;text-align-last:justify;letter-spacing:0.481px;-webkit-text-stroke:0.38px currentColor;">thermal conditions. Taken as a whole, these results may pave a way for</div>
<div class="l" style="left:1278.0px;top:2333.7px;font-size:35.5px;line-height:39.30px;width:1045.0px;text-align:justify;text-align-last:justify;letter-spacing:0.812px;-webkit-text-stroke:0.38px currentColor;">developing a novel preparation method of hydrogel based gelatin for</div>
<div class="l" style="left:1278.0px;top:2377.3px;font-size:35.5px;line-height:39.30px;letter-spacing:0.837px;-webkit-text-stroke:0.38px currentColor;">rapid water absorbent.</div>
<div class="l" style="left:1278.0px;top:2465.1px;font-size:35px;line-height:38.74px;letter-spacing:1.037px;-webkit-text-stroke:0.15px currentColor;font-weight:bold;">Acknowledgments</div>
<div class="l" style="left:1330.0px;top:2551.4px;font-size:35.5px;line-height:39.30px;width:993.0px;text-align:justify;text-align-last:justify;letter-spacing:0.811px;-webkit-text-stroke:0.38px currentColor;">Part of this work is supported by Ningbo Natural Science</div>
<div class="l" style="left:1278.0px;top:2594.9px;font-size:35.5px;line-height:39.30px;width:1045.0px;text-align:justify;text-align-last:justify;letter-spacing:0.635px;-webkit-text-stroke:0.38px currentColor;">Foundation (Grant No. 2015A610270), Natural Science Foundation of</div>
<div class="l" style="left:1278.0px;top:2638.5px;font-size:35.5px;line-height:39.30px;width:1045.0px;text-align:justify;text-align-last:justify;letter-spacing:0.596px;-webkit-text-stroke:0.38px currentColor;">China (Grant No. 51703100) and Zhejiang Province College Students’</div>
<div class="l" style="left:1278.0px;top:2682.0px;font-size:35.5px;line-height:39.30px;letter-spacing:0.553px;-webkit-text-stroke:0.38px currentColor;">Science and Technology Innovation Activity (2015R424010).</div>
<div class="l" style="left:1278.0px;top:2768.5px;font-size:35px;line-height:38.74px;letter-spacing:0.901px;-webkit-text-stroke:0.15px currentColor;font-weight:bold;">References</div>
<div class="l" style="left:1296.5px;top:2863.5px;font-size:27px;line-height:29.89px;letter-spacing:0.508px;-webkit-text-stroke:0.29px currentColor;">[1]</div>
<div class="l" style="left:1347.8px;top:2863.5px;font-size:27px;line-height:29.89px;letter-spacing:0.728px;-webkit-text-stroke:0.29px currentColor;color:#2f7aa8;">R.F. Gomes, A.C.N. de Azevedo, A.G.B. Pereira, E.C. Muniz, A.R. Fajardo,</div>
<div class="l" style="left:1347.8px;top:2896.9px;font-size:27px;line-height:29.89px;letter-spacing:0.925px;-webkit-text-stroke:0.29px currentColor;color:#2f7aa8;">F.H.A. Rodrigues, Fast dye removal from water by starch-based nanocomposites, J.</div>
<div class="l" style="left:1347.8px;top:2930.2px;font-size:27px;line-height:29.89px;letter-spacing:0.964px;-webkit-text-stroke:0.29px currentColor;color:#2f7aa8;">Colloid Interface Sci. 454 (2015) 200–209<span style='color:#111'>.</span></div>
<div class="l" style="left:1296.5px;top:2963.5px;font-size:27px;line-height:29.89px;letter-spacing:0.508px;-webkit-text-stroke:0.29px currentColor;">[2]</div>
<div class="l" style="left:1347.8px;top:2963.5px;font-size:27px;line-height:29.89px;letter-spacing:0.938px;-webkit-text-stroke:0.29px currentColor;color:#2f7aa8;">Stefanie Utech, Aldo R. Boccaccini, A reviewer of hydrogel-based composites for</div>
<div class="l" style="left:1347.8px;top:2996.9px;font-size:27px;line-height:29.89px;letter-spacing:1.123px;-webkit-text-stroke:0.29px currentColor;color:#2f7aa8;">biomedical applications: enhancement of hydrogel properties by addition of rigid</div>
<div class="l" style="left:1347.8px;top:3030.2px;font-size:27px;line-height:29.89px;letter-spacing:1.143px;-webkit-text-stroke:0.29px currentColor;color:#2f7aa8;">inorganic fillers, J. Mater. Sci. 51 (2016) 271–310<span style='color:#111'>.</span></div>
<div class="l" style="left:1296.5px;top:3063.5px;font-size:27px;line-height:29.89px;letter-spacing:0.508px;-webkit-text-stroke:0.29px currentColor;">[3]</div>
<div class="l" style="left:1347.8px;top:3063.5px;font-size:27px;line-height:29.89px;letter-spacing:0.527px;-webkit-text-stroke:0.29px currentColor;color:#2f7aa8;">Q.S. Zhao, Q.X. Ji, X.J. Cheng, G.Z. Sun, C. Ran, B. Zhao, X.G. Chen, Prepatation of</div>
<div class="l" style="left:1218.5px;top:3169.0px;font-size:28px;line-height:31.00px;letter-spacing:0.750px;-webkit-text-stroke:0.30px currentColor;">718</div>
</body></html>
